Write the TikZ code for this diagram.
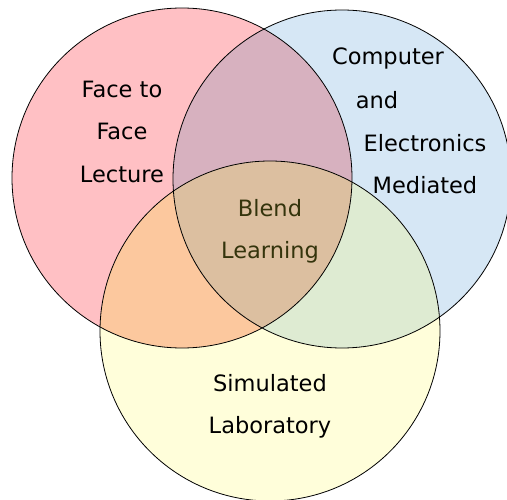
\documentclass[tikz,border=0pt]{standalone}
\usepackage{fontspec}
\setmainfont{DejaVu Sans}
\usetikzlibrary{positioning}
\usetikzlibrary{backgrounds}

\definecolor{facered}{RGB}{255,192,196}
\definecolor{compblue}{RGB}{214,231,245}
\definecolor{labyellow}{RGB}{255,254,218}
\definecolor{redblue}{RGB}{215,177,191}
\definecolor{redyellow}{RGB}{252,200,158}
\definecolor{blueyellow}{RGB}{222,235,210}
\definecolor{blendmix}{RGB}{220,191,160}
\definecolor{blendtext}{RGB}{52,52,12}

\tikzset{
    lbl/.style={font=\fontsize{22.5}{26}\selectfont, inner sep=0pt},
    blendlbl/.style={lbl, text=blendtext}
}

\begin{document}
\begin{tikzpicture}[x=1pt,y=1pt]
            \useasboundingbox (0,0) rectangle (507,499);
            \fill[facered] (182,321) circle [radius=170];
            \fill[compblue] (342,320) circle [radius=169];
            \fill[labyellow] (270,168) circle [radius=170];
            \begin{scope}
                \clip (182,321) circle [radius=170];
                \fill[redblue] (342,320) circle [radius=169];
                \fill[redyellow] (270,168) circle [radius=170];
            \end{scope}
            \begin{scope}
                \clip (342,320) circle [radius=169];
                \fill[blueyellow] (270,168) circle [radius=170];
                \clip (182,321) circle [radius=170];
                \fill[blendmix] (270,168) circle [radius=170];
            \end{scope}
            \draw[black, line width=0.8pt] (182,321) circle [radius=170];
            \draw[black, line width=0.8pt] (342,320) circle [radius=169];
            \draw[black, line width=0.8pt] (270,168) circle [radius=170];
            % labels
            \node[lbl] (face1) at (122,410) {Face to};
            \node[lbl] (face2) at (122,368) {Face};
            \node[lbl] (face3) at (122,325) {Lecture};
            \node[lbl] (comp1) at (388,441) {Computer};
            \node[lbl] (comp2) at (377,399) {and};
            \node[lbl] (comp3) at (425,356) {Electronics};
            \node[lbl] (comp4) at (425,314) {Mediated};
            \node[blendlbl] (blend1) at (270,291) {Blend};
            \node[blendlbl] (blend2) at (270,247) {Learning};
            \node[lbl] (lab1) at (270,116) {Simulated};
            \node[lbl] (lab2) at (270,72) {Laboratory};
            \end{tikzpicture}
\end{document}
